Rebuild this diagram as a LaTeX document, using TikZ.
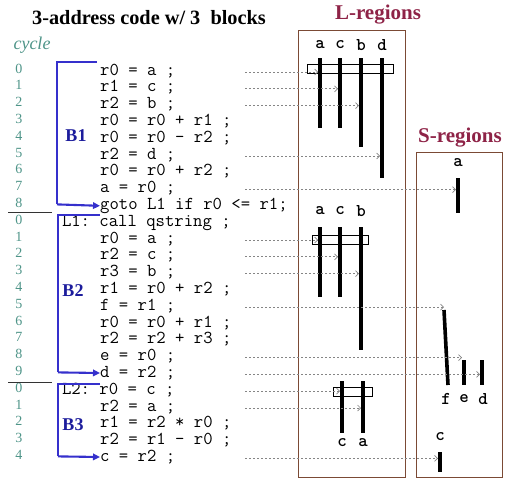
\documentclass[tikz,border=0pt]{standalone}
\usepackage{fontspec}
\setmainfont{Liberation Serif}
\usetikzlibrary{arrows.meta}

\definecolor{bracketblue}{HTML}{3530CC}
\definecolor{labelblue}{HTML}{1C1C9C}
\definecolor{cyclegreen}{HTML}{4E9488}
\definecolor{regionred}{HTML}{8E2347}
\definecolor{boxbrown}{HTML}{7B4A35}
\definecolor{flowgray}{HTML}{858585}

\tikzset{
  code/.style={font=\fontsize{18.2}{19}\ttfamily\frenchspacing, anchor=base west, inner sep=0pt},
  cyc/.style={font=\fontsize{14}{15}\selectfont, text=cyclegreen, anchor=base, inner sep=0pt},
  blocklabel/.style={font=\fontsize{18}{19}\selectfont\bfseries, text=labelblue, inner sep=0pt},
  regiontitle/.style={font=\fontsize{21}{22}\selectfont\bfseries, text=regionred, inner sep=0pt},
  var/.style={font=\fontsize{18}{19}\ttfamily\bfseries, inner sep=0pt},
  live/.style={line width=3.6pt},
  group/.style={draw, line width=0.7pt},
  regionbox/.style={draw=boxbrown, line width=0.9pt},
  flow/.style={flowgray, line width=0.7pt, dash pattern=on 2pt off 2pt,
               -{Straight Barb[length=3pt,width=6pt]}},
  bracket/.style={bracketblue, line width=2.1pt},
  bracketarrow/.style={bracket, -{Triangle[length=7pt,width=6.5pt]}},
  sep/.style={line width=0.7pt, black!80}
}

\begin{document}
\begin{tikzpicture}[x=1pt,y=-1pt]
\useasboundingbox (0,0) rectangle (509,479);

% headings
\node[font=\fontsize{20.3}{21}\selectfont\bfseries, inner sep=0pt] (title) at (149,18) {3-address code w/ 3~~blocks};
\node[font=\fontsize{18}{19}\selectfont\itshape, text=cyclegreen, inner sep=0pt] (cyclehead) at (32,45) {cycle};
\node[regiontitle] (ltitle) at (378,15) {L-regions};
\node[regiontitle] (stitle) at (460,138) {S-regions};

% region boxes
\draw[regionbox] (298,30) rectangle (405,477);
\draw[regionbox] (416,152) rectangle (502,477);

% code lines (row k sits at y = 70 + 16.8 k)
\foreach \k/\txt in {0/{r0 = a ;},1/{r1 = c ;},2/{r2 = b ;},3/{r0 = r0 + r1 ;},
    4/{r0 = r0 - r2 ;},5/{r2 = d ;},6/{r0 = r0 + r2 ;},7/{a = r0 ;},
    8/{goto L1 if r0 <= r1;},10/{r0 = a ;},11/{r2 = c ;},12/{r3 = b ;},
    13/{r1 = r0 + r2 ;},14/{f = r1 ;},15/{r0 = r0 + r1 ;},16/{r2 = r2 + r3 ;},
    17/{e = r0 ;},18/{d = r2 ;},20/{r2 = a ;},21/{r1 = r2 * r0 ;},
    22/{r2 = r1 - r0 ;},23/{c = r2 ;}}
  \node[code] (line\k) at (100,{70+16.8*\k+5}) {\txt};
\node[code] (line9) at (61.8,{70+16.8*9+5}) {L1: call qstring ;};
\node[code] (line19) at (61.8,{70+16.8*19+5}) {L2: r0 = c ;};

% cycle numbers
\foreach \k/\c in {0/0,1/1,2/2,3/3,4/4,5/5,6/6,7/7,8/8,
    9/0,10/1,11/2,12/3,13/4,14/5,15/6,16/7,17/8,18/9,
    19/0,20/1,21/2,22/3,23/4}
  \node[cyc] (cyc\k) at (19,{70+16.8*\k+3}) {\c};
\draw[sep] (8,212) -- (52,212);
\draw[sep] (8,382) -- (52,382);

% block brackets
\coordinate (b1top) at (97,62);
\coordinate (b1corner) at (57,62);
\coordinate (b1bot) at (57,204.4);
\draw[bracket] (b1top) -- (b1corner) -- (b1bot);
\draw[bracketarrow] (b1bot) -- (line8.west);
\node[blocklabel] (B1) at (76,136) {B1};

\coordinate (b2top) at (100,215);
\coordinate (b2corner) at (58,215);
\coordinate (b2bot) at (58,372.4);
\draw[bracket] (b2top) -- (b2corner) -- (b2bot);
\draw[bracketarrow] (b2bot) -- (line18.west);
\node[blocklabel] (B2) at (73,291) {B2};

\coordinate (b3top) at (100,384);
\coordinate (b3corner) at (58,384);
\coordinate (b3bot) at (58,456.4);
\draw[bracket] (b3top) -- (b3corner) -- (b3bot);
\draw[bracketarrow] (b3bot) -- (line23.west);
\node[blocklabel] (B3) at (73,425) {B3};

% ---- L-regions, block 1
\foreach \n/\x in {a/320,c/340,b/361,d/382}
  \node[var] (l1\n) at (\x,45) {\n};
\draw[group] (307,64.5) rectangle (393,73);
\draw[live] (320,58) -- (320,128);
\draw[live] (340,58) -- (340,128);
\draw[live] (361,58) -- (361,147);
\draw[live] (382,58) -- (382,178);

% ---- L-regions, block 2
\foreach \n/\x in {a/320,c/340,b/361}
  \node[var] (l2\n) at (\x,211) {\n};
\draw[group] (312,235.5) rectangle (368,244);
\draw[live] (320,227) -- (320,297);
\draw[live] (340,227) -- (340,297);
\draw[live] (361,227) -- (361,350);

% ---- L-regions, block 3
\draw[group] (333,387.5) rectangle (372,396);
\draw[live] (342,381) -- (342,433);
\draw[live] (363,381) -- (363,433);
\node[var] (l3c) at (342,443) {c};
\node[var] (l3a) at (363,443) {a};

% ---- S-regions
\node[var] (sa) at (458,163) {a};
\draw[live] (458,178) -- (458,213);
\draw[live] (444,310) -- (448,385);
\draw[live] (464,360) -- (464,385);
\draw[live] (482,360) -- (482,385);
\node[var] (sf) at (446,399) {f};
\node[var] (se) at (464,399) {e};
\node[var] (sd) at (483,399) {d};
\node[var] (sc) at (440,437) {c};
\draw[live] (440,452) -- (440,472);

% value flow from the code into the regions
\foreach \k/\x in {0/318,1/338,2/359,5/380,7/456,
    10/318,11/338,12/359,14/444,17/462,18/480,
    19/340,20/361,23/438}{
  \coordinate (src\k) at (245,{70+16.8*\k+2});
  \coordinate (dst\k) at (\x,{70+16.8*\k+2});
  \draw[flow] (src\k) -- (dst\k);
}
\end{tikzpicture}
\end{document}
